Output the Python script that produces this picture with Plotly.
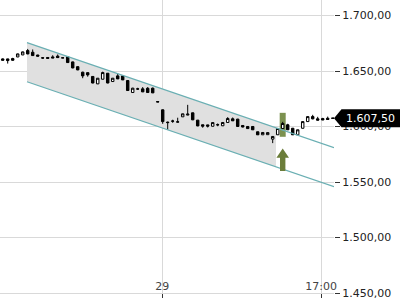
import plotly.graph_objects as go

# ---- data ----
idx = list(range(67))
opens = [1661.0, 1661.0, 1661.3, 1662.8, 1664.6, 1668.5, 1667.0, 1664.5, 1662.0, 1662.3,
         1662.8, 1663.5, 1662.0, 1663.0, 1658.3, 1654.0, 1649.0, 1648.6, 1645.2, 1638.5,
         1642.7, 1648.1, 1640.6, 1645.7, 1645.7, 1641.5, 1630.7, 1633.8, 1634.0, 1634.5,
         1634.6, 1622.5, 1615.1, 1604.0, 1604.8, 1604.0, 1608.8, 1610.4, 1612.4, 1605.8,
         1601.6, 1601.5, 1600.3, 1601.5, 1600.7, 1603.7, 1607.0, 1606.7, 1601.0, 1600.1,
         1600.1, 1595.3, 1592.6, 1592.7, 1588.7, 1592.6, 1598.3, 1601.6, 1598.5, 1592.6,
         1598.5, 1604.5, 1609.0, 1607.0, 1607.2, 1607.5, 1607.6]
highs = [1661.5, 1661.2, 1662.0, 1665.8, 1667.6, 1670.0, 1669.5, 1664.7, 1662.7, 1662.5,
         1664.3, 1665.0, 1662.1, 1663.3, 1658.6, 1654.3, 1649.5, 1649.0, 1645.4, 1643.8,
         1649.5, 1648.3, 1643.8, 1648.0, 1646.5, 1641.8, 1635.0, 1635.0, 1635.6, 1635.6,
         1635.2, 1622.6, 1615.5, 1604.5, 1606.2, 1608.0, 1611.7, 1619.6, 1612.6, 1606.0,
         1601.8, 1601.7, 1603.9, 1602.8, 1604.0, 1608.5, 1608.2, 1607.0, 1601.3, 1600.4,
         1600.3, 1595.5, 1594.9, 1594.8, 1591.3, 1598.6, 1604.3, 1602.5, 1598.8, 1597.3,
         1604.7, 1609.3, 1610.6, 1608.8, 1607.9, 1609.0, 1607.7]
lows = [1659.5, 1656.8, 1659.3, 1662.5, 1664.4, 1665.2, 1663.8, 1663.3, 1661.0, 1661.3,
        1661.8, 1661.8, 1661.8, 1657.5, 1652.5, 1650.8, 1643.6, 1645.0, 1639.0, 1638.3,
        1642.5, 1639.0, 1640.4, 1642.8, 1641.9, 1632.3, 1630.5, 1633.0, 1631.1, 1630.5,
        1630.2, 1622.1, 1602.5, 1597.2, 1603.4, 1603.6, 1608.6, 1610.2, 1605.8, 1600.3,
        1599.0, 1599.2, 1600.1, 1600.3, 1600.5, 1603.5, 1605.0, 1599.9, 1599.3, 1598.0,
        1596.9, 1592.4, 1592.4, 1592.5, 1585.1, 1592.4, 1598.1, 1596.9, 1592.4, 1592.4,
        1598.3, 1604.3, 1606.5, 1605.5, 1605.8, 1606.2, 1607.4]
closes = [1659.8, 1659.5, 1659.8, 1665.5, 1667.3, 1665.5, 1664.0, 1663.5, 1661.8, 1661.5,
          1661.9, 1662.2, 1661.9, 1657.7, 1652.9, 1651.1, 1645.7, 1646.6, 1639.3, 1643.6,
          1648.7, 1639.3, 1643.6, 1643.0, 1642.1, 1632.5, 1634.6, 1634.0, 1631.3, 1630.7,
          1630.4, 1622.2, 1604.5, 1603.6, 1605.0, 1604.3, 1611.5, 1611.2, 1606.1, 1600.6,
          1600.4, 1600.4, 1603.6, 1601.7, 1603.7, 1607.3, 1605.2, 1600.1, 1599.6, 1598.2,
          1597.1, 1592.6, 1594.7, 1594.6, 1591.1, 1598.3, 1602.8, 1597.1, 1592.6, 1597.1,
          1604.5, 1609.0, 1607.0, 1605.8, 1606.0, 1606.4, 1607.5]

x_tick_pos = [31.9, 63.7]
x_tick_labels = ["29", "17:00"]
y_tick_vals = [1450, 1500, 1550, 1600, 1650, 1700]
y_tick_labels = ["1.450,00", "1.500,00", "1.550,00", "1.600,00", "1.650,00", "1.700,00"]
last_label = "1.607,50"

x_range = [-0.54, 66.26]
y_range = [1450, 1714.1]

# trend channel
ch_start = 4.86
ch_fill_end = 54.66
ch_end = 66.26
ch_upper_start = 1675.7
ch_slope = -1.541
ch_width = 35.3

# signal
signal_idx = 56
signal_box = [1590.8, 1612.4]
arrow_top, arrow_neck, arrow_bottom = 1580.2, 1571.9, 1559.9

def upper(x):
    return ch_upper_start + ch_slope * (x - ch_start)

def lower(x):
    return upper(x) - ch_width

fig = go.Figure()

fig.add_trace(go.Candlestick(
    x=idx, open=opens, high=highs, low=lows, close=closes,
    increasing=dict(line=dict(color="black", width=1), fillcolor="white"),
    decreasing=dict(line=dict(color="black", width=1), fillcolor="black"),
    whiskerwidth=0, showlegend=False))

lx = [ch_start, ch_end]
for fn in (upper, lower):
    fig.add_trace(go.Scatter(x=lx, y=[fn(v) for v in lx], mode="lines",
                             line=dict(color="#6aafb3", width=1.2), hoverinfo="skip",
                             showlegend=False))

shapes = []
# channel fill (between gridlines and traces)
fill_path = (f"M {ch_start} {lower(ch_start)} L {ch_fill_end} {lower(ch_fill_end)} "
             f"L {ch_fill_end} {upper(ch_fill_end)} L {ch_start} {upper(ch_start)} Z")
shapes.append(dict(type="path", xref="x", yref="y", layer="between", path=fill_path,
                   fillcolor="#e0e0e0", line=dict(width=0)))
# highlight box behind signal candle
shapes.append(dict(type="rect", xref="x", yref="y", layer="between",
                   x0=signal_idx - 0.6, x1=signal_idx + 0.6,
                   y0=signal_box[0], y1=signal_box[1],
                   fillcolor="rgba(110,133,60,0.9)", line=dict(width=0)))
# arrow
hw, sw = 1.26, 0.54
path = (f"M {signal_idx} {arrow_top} L {signal_idx + hw} {arrow_neck} "
        f"L {signal_idx + sw} {arrow_neck} L {signal_idx + sw} {arrow_bottom} "
        f"L {signal_idx - sw} {arrow_bottom} L {signal_idx - sw} {arrow_neck} "
        f"L {signal_idx - hw} {arrow_neck} Z")
shapes.append(dict(type="path", xref="x", yref="y", path=path,
                   fillcolor="#6b7d3a", line=dict(width=0), layer="above"))
# dotted line to last price
shapes.append(dict(type="line", xref="x", yref="y", x0=idx[-1], x1=x_range[1],
                   y0=closes[-1], y1=closes[-1],
                   line=dict(color="black", width=1, dash="dot")))
# price label
shapes.append(dict(type="path", xref="paper", yref="y", xsizemode="pixel",
                   ysizemode="pixel", xanchor=1.0, yanchor=closes[-1],
                   path="M 0 0 L 7.5 9 L 66 9 L 66 -9 L 7.5 -9 Z",
                   fillcolor="black", line=dict(width=0), layer="above"))

fig.update_layout(
    width=400, height=300,
    margin=dict(l=0, r=66, t=0, b=7),
    plot_bgcolor="white", paper_bgcolor="white",
    font=dict(family="DejaVu Sans", size=11, color="#222"),
    shapes=shapes,
    annotations=[dict(xref="paper", yref="y", x=344 / 334, y=closes[-1],
                      xanchor="left", yanchor="middle", text=last_label,
                      showarrow=False, font=dict(color="white", size=11,
                                                 family="DejaVu Sans"))],
    xaxis=dict(range=x_range, rangeslider=dict(visible=False), tickmode="array",
               tickvals=x_tick_pos, ticktext=x_tick_labels, showgrid=True,
               gridcolor="#d9d9d9", gridwidth=1, ticks="outside", ticklen=4,
               tickcolor="#333", ticklabelposition="inside", ticklabeloverflow="allow",
               showline=True, linecolor="#d9d9d9", zeroline=False),
    yaxis=dict(range=y_range, side="right", tickmode="array", tickvals=y_tick_vals,
               ticktext=y_tick_labels, showgrid=True, gridcolor="#d9d9d9",
               gridwidth=1, ticks="outside", ticklen=5, tickcolor="#333",
               zeroline=False),
)

fig.write_html("out.html")
